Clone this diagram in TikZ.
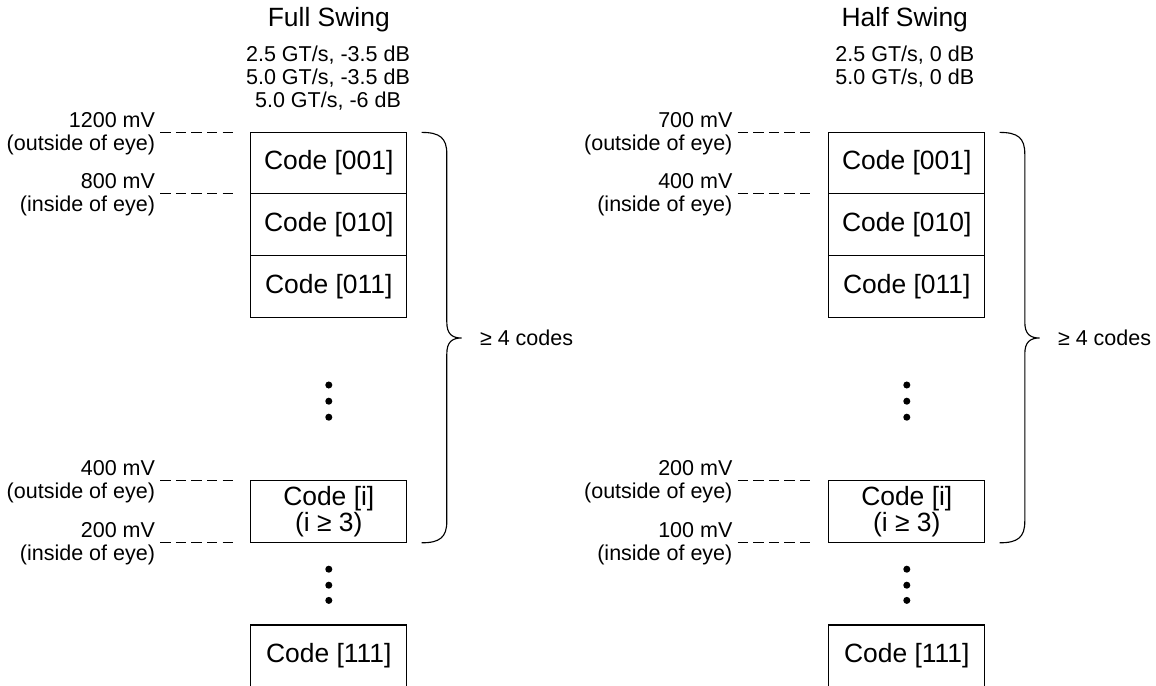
\documentclass[tikz,border=0pt]{standalone}
\usepackage{fontspec}
\setmainfont{Liberation Sans}
\usepackage{tikz}
\usetikzlibrary{positioning}

\begin{document}
\begin{tikzpicture}[
every node/.style={inner sep=0pt, outer sep=0pt},
big_text/.style={font=\fontsize{18.8}{18.6}\selectfont},
small_text/.style={font=\fontsize{15.3}{16.4}\selectfont},
code/.style={rectangle, draw, line width=0.8pt, minimum width=3.9cm, minimum height=1.54cm, big_text, align=center},
level/.style={small_text, align=right, anchor=north east},
leader/.style={line width=0.8pt, dash pattern=on 7.4pt off 3.7pt},
brace/.style={line width=0.8pt}
]

\useasboundingbox (0,0) rectangle (28.9,-17.15);
\clip (0,0) rectangle (28.9,-17.15);

% Full Swing (left)

\node[big_text, anchor=base] (fs_title) at (8.22,-0.675) {Full Swing};

\node[small_text, align=center, anchor=north] (fs_rates) at (8.2,-1.15) {2.5 GT/s, -3.5 dB\\5.0 GT/s, -3.5 dB\\5.0 GT/s, -6 dB};

\node[code] (fs_c001) at (8.22,-4.078) {Code [001]};
\node[code, below=0cm of fs_c001] (fs_c010) {Code [010]};
\node[code, below=0cm of fs_c010] (fs_c011) {Code [011]};
\node[code, minimum height=1.55cm] (fs_ci) at (8.22,-12.79) {Code [i]\\(i ≥ 3)};
\node[code, minimum height=1.55cm] (fs_c111) at (8.22,-16.4) {Code [111]};

\foreach \y in {-9.625,-10.03,-10.43,-14.23,-14.63,-15.01}
  \fill (8.22,\y) circle (0.088);

\node[level] (fs_l1200) at (3.875,-2.8) {1200 mV\\(outside of eye)};
\node[level] (fs_l800) at (3.875,-4.34) {800 mV\\(inside of eye)};
\node[level] (fs_l400) at (3.875,-11.51) {400 mV\\(outside of eye)};
\node[level] (fs_l200) at (3.875,-13.06) {200 mV\\(inside of eye)};

\draw[leader] (fs_l1200.east |- fs_c001.north) ++(0.13,0) -- ++(1.83,0);
\draw[leader] (fs_l800.east |- fs_c001.south) ++(0.13,0) -- ++(1.83,0);
\draw[leader] (fs_l400.east |- fs_ci.north) ++(0.13,0) -- ++(1.83,0);
\draw[leader] (fs_l200.east |- fs_ci.south) ++(0.13,0) -- ++(1.83,0);

\coordinate (fs_tip) at (11.54,-8.45);
\draw[brace] (10.54,-3.31) .. controls (11.0,-3.31) and (11.17,-3.45) .. (11.17,-3.85)
  -- (11.17,-8.05) .. controls (11.17,-8.35) and (11.3,-8.45) .. (fs_tip)
  .. controls (11.3,-8.45) and (11.17,-8.55) .. (11.17,-8.85)
  -- (11.17,-13.03) .. controls (11.17,-13.43) and (11.0,-13.57) .. (10.54,-13.57);
\node[small_text, right=0.46cm of fs_tip] (fs_count) {≥ 4 codes};

% Half Swing (right)

\node[big_text, anchor=base] (hs_title) at (22.62,-0.675) {Half Swing};

\node[small_text, align=center, anchor=north] (hs_rates) at (22.62,-1.15) {2.5 GT/s, 0 dB\\5.0 GT/s, 0 dB};

\node[code] (hs_c001) at (22.67,-4.078) {Code [001]};
\node[code, below=0cm of hs_c001] (hs_c010) {Code [010]};
\node[code, below=0cm of hs_c010] (hs_c011) {Code [011]};
\node[code, minimum height=1.55cm] (hs_ci) at (22.67,-12.79) {Code [i]\\(i ≥ 3)};
\node[code, minimum height=1.55cm] (hs_c111) at (22.67,-16.4) {Code [111]};

\foreach \y in {-9.625,-10.03,-10.43,-14.23,-14.63,-15.01}
  \fill (22.67,\y) circle (0.088);

\node[level] (hs_l700) at (18.31,-2.8) {700 mV\\(outside of eye)};
\node[level] (hs_l400) at (18.31,-4.34) {400 mV\\(inside of eye)};
\node[level] (hs_l200) at (18.31,-11.51) {200 mV\\(outside of eye)};
\node[level] (hs_l100) at (18.31,-13.06) {100 mV\\(inside of eye)};

\draw[leader] (hs_l700.east |- hs_c001.north) ++(0.13,0) -- ++(1.83,0);
\draw[leader] (hs_l400.east |- hs_c001.south) ++(0.13,0) -- ++(1.83,0);
\draw[leader] (hs_l200.east |- hs_ci.north) ++(0.13,0) -- ++(1.83,0);
\draw[leader] (hs_l100.east |- hs_ci.south) ++(0.13,0) -- ++(1.83,0);

\coordinate (hs_tip) at (25.99,-8.45);
\draw[brace] (24.99,-3.31) .. controls (25.45,-3.31) and (25.62,-3.45) .. (25.62,-3.85)
  -- (25.62,-8.05) .. controls (25.62,-8.35) and (25.75,-8.45) .. (hs_tip)
  .. controls (25.75,-8.45) and (25.62,-8.55) .. (25.62,-8.85)
  -- (25.62,-13.03) .. controls (25.62,-13.43) and (25.45,-13.57) .. (24.99,-13.57);
\node[small_text, right=0.46cm of hs_tip] (hs_count) {≥ 4 codes};

\end{tikzpicture}
\end{document}
